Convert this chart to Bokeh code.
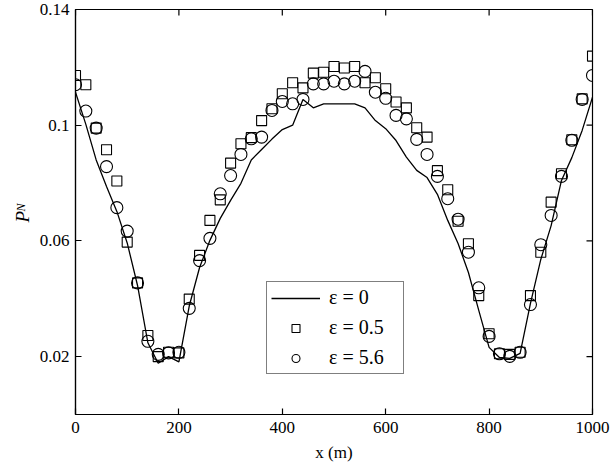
import math
from bokeh.plotting import figure
from bokeh.models import Range1d, FixedTicker, Legend, LegendItem, Title
from bokeh.embed import file_html
from bokeh.resources import INLINE

# ---------------- data ----------------
x_pos = [0, 20, 40, 60, 80, 100, 120, 140, 160, 180, 200, 220, 240, 260, 280, 300,
         320, 340, 360, 380, 400, 420, 440, 460, 480, 500, 520, 540, 560, 580, 600,
         620, 640, 660, 680, 700, 720, 740, 760, 780, 800, 820, 840, 860, 880, 900,
         920, 940, 960, 980, 1000]

p_eps0 = [0.1114, 0.1003, 0.0880, 0.0788, 0.0702, 0.0593, 0.0446, 0.0248, 0.0177, 0.0200,
          0.0182, 0.0375, 0.0508, 0.0602, 0.0678, 0.0740, 0.0799, 0.0880, 0.0916, 0.0952,
          0.0985, 0.1000, 0.1089, 0.1060, 0.1074, 0.1074, 0.1074, 0.1074, 0.1060, 0.1016,
          0.0988, 0.0947, 0.0890, 0.0844, 0.0819, 0.0761, 0.0671, 0.0591, 0.0491, 0.0360,
          0.0232, 0.0197, 0.0194, 0.0211, 0.0384, 0.0536, 0.0653, 0.0809, 0.0888, 0.0982,
          0.1097]

p_eps05 = [0.1172, 0.1140, 0.0990, 0.0915, 0.0807, 0.0596, 0.0455, 0.0273, 0.0200, 0.0215,
           0.0213, 0.0399, 0.0550, 0.0671, 0.0742, 0.0869, 0.0936, 0.0957, 0.1016, 0.1057,
           0.1109, 0.1147, 0.1129, 0.1180, 0.1183, 0.1203, 0.1198, 0.1203, 0.1147, 0.1164,
           0.1126, 0.1080, 0.1060, 0.0991, 0.0959, 0.0843, 0.0777, 0.0668, 0.0590, 0.0411,
           0.0279, 0.0210, 0.0208, 0.0215, 0.0411, 0.0561, 0.0734, 0.0832, 0.0950, 0.1091,
           0.1239]

p_eps56 = [0.1140, 0.1049, 0.0990, 0.0857, 0.0715, 0.0634, 0.0455, 0.0253, 0.0208, 0.0213,
           0.0215, 0.0367, 0.0532, 0.0609, 0.0763, 0.0826, 0.0899, 0.0953, 0.0959, 0.1051,
           0.1082, 0.1074, 0.1089, 0.1143, 0.1143, 0.1152, 0.1143, 0.1152, 0.1186, 0.1114,
           0.1093, 0.1034, 0.1022, 0.0951, 0.0899, 0.0823, 0.0746, 0.0675, 0.0561, 0.0438,
           0.0270, 0.0210, 0.0201, 0.0215, 0.0380, 0.0587, 0.0688, 0.0823, 0.0948, 0.1089,
           0.1172]

x_ticks = [0, 200, 400, 600, 800, 1000]
y_ticks = [0.02, 0.06, 0.1, 0.14]
y_tick_labels = ["0.02", "0.06", "0.1", "0.14"]
legend_labels = ["ε = 0", "ε = 0.5", "ε = 5.6"]
x_title = "x (m)"
y_title_main, y_title_sub = "P", "N"

X_MIN, X_MAX = 0, 1000
Y_MIN, Y_MAX = 0, 0.14

FONT = "Liberation Serif"

# ---------------- figure ----------------
p = figure(width=610, height=465, output_backend="svg", toolbar_location=None,
           x_range=Range1d(X_MIN, X_MAX), y_range=Range1d(Y_MIN, Y_MAX),
           min_border_left=75, min_border_right=18, min_border_top=9, min_border_bottom=51)
p.background_fill_color = "white"
p.border_fill_color = "white"
p.outline_line_color = "black"
p.outline_line_width = 1.2
p.grid.visible = False

for ax in (p.xaxis[0], p.yaxis[0]):
    ax.major_tick_in = 6
    ax.major_tick_out = 0
    ax.minor_tick_in = 0
    ax.minor_tick_out = 0
    ax.axis_line_color = "black"
    ax.axis_line_width = 1.2
    ax.major_tick_line_color = "black"
    ax.major_tick_line_width = 1.2
    ax.major_label_text_font = FONT
    ax.major_label_text_font_size = "17px"
    ax.major_label_text_color = "black"

p.xaxis.ticker = FixedTicker(ticks=x_ticks)
p.yaxis.ticker = FixedTicker(ticks=y_ticks)
p.yaxis.major_label_overrides = {t: s for t, s in zip(y_ticks, y_tick_labels)}
p.xaxis.major_label_standoff = 7
p.yaxis.major_label_standoff = 6

# x-axis title
p.xaxis.axis_label = x_title
p.xaxis.axis_label_text_font = FONT
p.xaxis.axis_label_text_font_style = "normal"
p.xaxis.axis_label_text_font_size = "17px"
p.xaxis.axis_label_text_color = "black"
p.xaxis.axis_label_standoff = 7

# y-axis title: "P" with subscript "N", as two titles on the left side
p.add_layout(Title(text=y_title_sub, align="left", offset=203, standoff=18,
                   text_font=FONT, text_font_style="italic", text_font_size="12px",
                   text_color="black"), "left")
p.add_layout(Title(text=y_title_main, align="left", offset=192, standoff=-61,
                   text_font=FONT, text_font_style="italic", text_font_size="19px",
                   text_color="black"), "left")

# mirrored inward ticks on top and right edges
p.ray(x_ticks, [Y_MAX] * len(x_ticks), length=6, length_units="screen",
      angle=-math.pi / 2, line_color="black", line_width=1.2)
p.ray([X_MAX] * len(y_ticks), y_ticks, length=6, length_units="screen",
      angle=math.pi, line_color="black", line_width=1.2)

r_line = p.line(x_pos, p_eps0, line_color="black", line_width=1.3)
r_sq = p.scatter(x_pos, p_eps05, marker="square", size=10, fill_color=None,
                 line_color="black", line_width=1.1)
r_ci = p.scatter(x_pos, p_eps56, marker="circle", size=12, fill_color=None,
                 line_color="black", line_width=1.1)

legend = Legend(items=[LegendItem(label=legend_labels[0], renderers=[r_line]),
                       LegendItem(label=legend_labels[1], renderers=[r_sq]),
                       LegendItem(label=legend_labels[2], renderers=[r_ci])],
                location=(191, 40))
legend.border_line_color = "black"
legend.border_line_width = 1.2
legend.background_fill_color = "white"
legend.background_fill_alpha = 1.0
legend.label_text_font = FONT
legend.label_text_font_size = "20px"
legend.label_text_color = "black"
legend.glyph_width = 49
legend.glyph_height = 20
legend.label_height = 20
legend.label_width = 70
legend.label_standoff = 9
legend.spacing = 7
legend.padding = 4
legend.margin = 0
p.add_layout(legend, "center")

open("out.html", "w").write(file_html(p, INLINE))
